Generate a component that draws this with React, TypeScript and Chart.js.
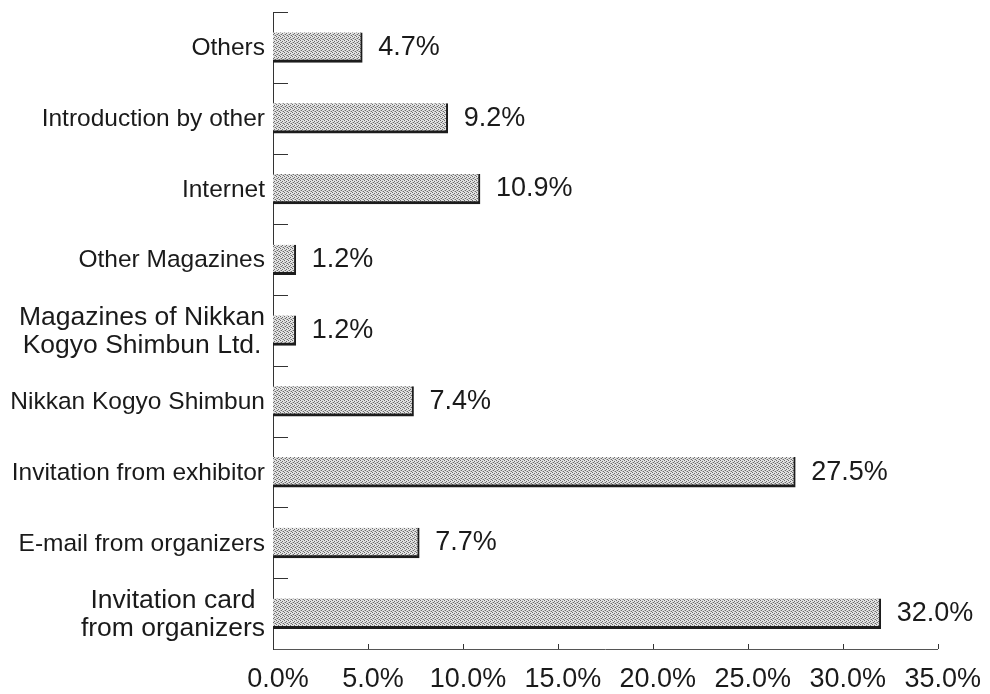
import { useEffect, useRef } from "react";
import { Chart, registerables } from "chart.js";

Chart.register(...registerables);

const categories: string[][] = [
  ["Others"],
  ["Introduction by other"],
  ["Internet"],
  ["Other Magazines"],
  ["Magazines of Nikkan", "Kogyo Shimbun Ltd."],
  ["Nikkan Kogyo Shimbun"],
  ["Invitation from exhibitor"],
  ["E-mail from organizers"],
  ["Invitation card", "from organizers"],
];
const values: number[] = [4.7, 9.2, 10.9, 1.2, 1.2, 7.4, 27.5, 7.7, 32.0];
const xTickValues: number[] = [0, 5, 10, 15, 20, 25, 30, 35];

const FONT = "'Liberation Sans', Arial, Helvetica, sans-serif";

function makePattern(ctx: CanvasRenderingContext2D): CanvasPattern | string {
  const p = document.createElement("canvas");
  p.width = 4;
  p.height = 4;
  const pc = p.getContext("2d");
  if (!pc) return "#c6c6c6";
  pc.fillStyle = "#e2e2e2";
  pc.fillRect(0, 0, 4, 4);
  pc.fillStyle = "#6c6c6c";
  const dots = [
    [0, 0],
    [2, 1],
    [1, 2],
    [3, 3],
  ];
  dots.forEach(([x, y]) => pc.fillRect(x, y, 1, 1));
  pc.fillStyle = "#b4b4b4";
  const mid = [
    [2, 3],
    [0, 2],
  ];
  mid.forEach(([x, y]) => pc.fillRect(x, y, 1, 1));
  return ctx.createPattern(p, "repeat") || "#c6c6c6";
}

export default function App() {
  const ref = useRef<HTMLCanvasElement | null>(null);

  useEffect(() => {
    const canvas = ref.current;
    if (!canvas) return;
    const ctx = canvas.getContext("2d");
    if (!ctx) return;
    const pattern = makePattern(ctx);

    const overlay = {
      id: "overlay",
      afterDatasetsDraw(chart: any) {
        const c: CanvasRenderingContext2D = chart.ctx;
        const xs = chart.scales.x;
        const ys = chart.scales.y;
        const area = chart.chartArea;
        c.save();
        // y tick marks (inside, at category boundaries)
        c.strokeStyle = "#333";
        c.lineWidth = 1;
        for (let i = 0; i < categories.length; i++) {
          const y = Math.round(ys.getPixelForValue(i - 0.5)) + 0.5;
          c.beginPath();
          c.moveTo(area.left, y);
          c.lineTo(area.left + 15, y);
          c.stroke();
        }
        // x tick marks (inside, short)
        xTickValues.forEach((v) => {
          const x = Math.round(xs.getPixelForValue(v)) + 0.5;
          c.beginPath();
          c.moveTo(x, area.bottom);
          c.lineTo(x, area.bottom - 5);
          c.stroke();
        });
        // value labels
        const meta = chart.getDatasetMeta(0);
        c.fillStyle = "#1a1a1a";
        c.font = `27px ${FONT}`;
        c.textAlign = "left";
        c.textBaseline = "middle";
        meta.data.forEach((el: any, i: number) => {
          c.fillText(values[i].toFixed(1) + "%", el.x + 16, el.y);
        });
        // category labels
        const right = area.left - 8;
        categories.forEach((lines, i) => {
          const cy = ys.getPixelForValue(i);
          const size = lines.length > 1 ? 26.5 : 24.5;
          const lh = 28;
          c.font = `${size}px ${FONT}`;
          const w = Math.max(...lines.map((l) => c.measureText(l).width));
          const cx = right - w / 2;
          c.textAlign = "center";
          c.textBaseline = "middle";
          lines.forEach((l, k) => {
            const y = cy + (k - (lines.length - 1) / 2) * lh + 1;
            c.fillText(l, cx, y);
          });
        });
        c.restore();
      },
    };

    const chart = new Chart(canvas, {
      type: "bar",
      data: {
        labels: categories.map((c) => c.join(" ")),
        datasets: [
          {
            data: values,
            backgroundColor: pattern as any,
            borderColor: "#1c1c1c",
            borderWidth: { top: 0, right: 2, bottom: 3, left: 0 } as any,
            borderSkipped: false,
            barThickness: 30,
          },
        ],
      },
      options: {
        indexAxis: "y",
        animation: false,
        responsive: false,
        maintainAspectRatio: false,
        layout: { padding: { top: 12, right: 51, bottom: 0, left: 0 } },
        plugins: {
          legend: { display: false },
          tooltip: { enabled: false },
          title: { display: false },
        },
        scales: {
          x: {
            type: "linear",
            position: "bottom",
            min: 0,
            max: 35,
            afterFit: (s: any) => {
              s.height = 45;
            },
            afterBuildTicks: (s: any) => {
              s.ticks = xTickValues.map((v) => ({ value: v }));
            },
            ticks: {
              autoSkip: false,
              maxRotation: 0,
              padding: 14,
              labelOffset: 5,
              color: "#1a1a1a",
              font: { family: FONT, size: 27 },
              callback: (v: any) => Number(v).toFixed(1) + "%",
            },
            grid: { display: false, drawTicks: false },
            border: { display: true, color: "#555", width: 1 },
          },
          y: {
            type: "category",
            position: "left",
            offset: true,
            afterFit: (s: any) => {
              s.width = 273;
            },
            ticks: { display: false },
            grid: { display: false, drawTicks: false },
            border: { display: true, color: "#333", width: 1 },
          },
        },
      },
      plugins: [overlay],
    });

    return () => chart.destroy();
  }, []);

  return (
    <div
      style={{
        position: "fixed",
        left: 0,
        top: 0,
        width: 990,
        height: 694,
        background: "#fff",
      }}
    >
      <canvas ref={ref} width={990} height={694} style={{ display: "block" }} />
    </div>
  );
}
